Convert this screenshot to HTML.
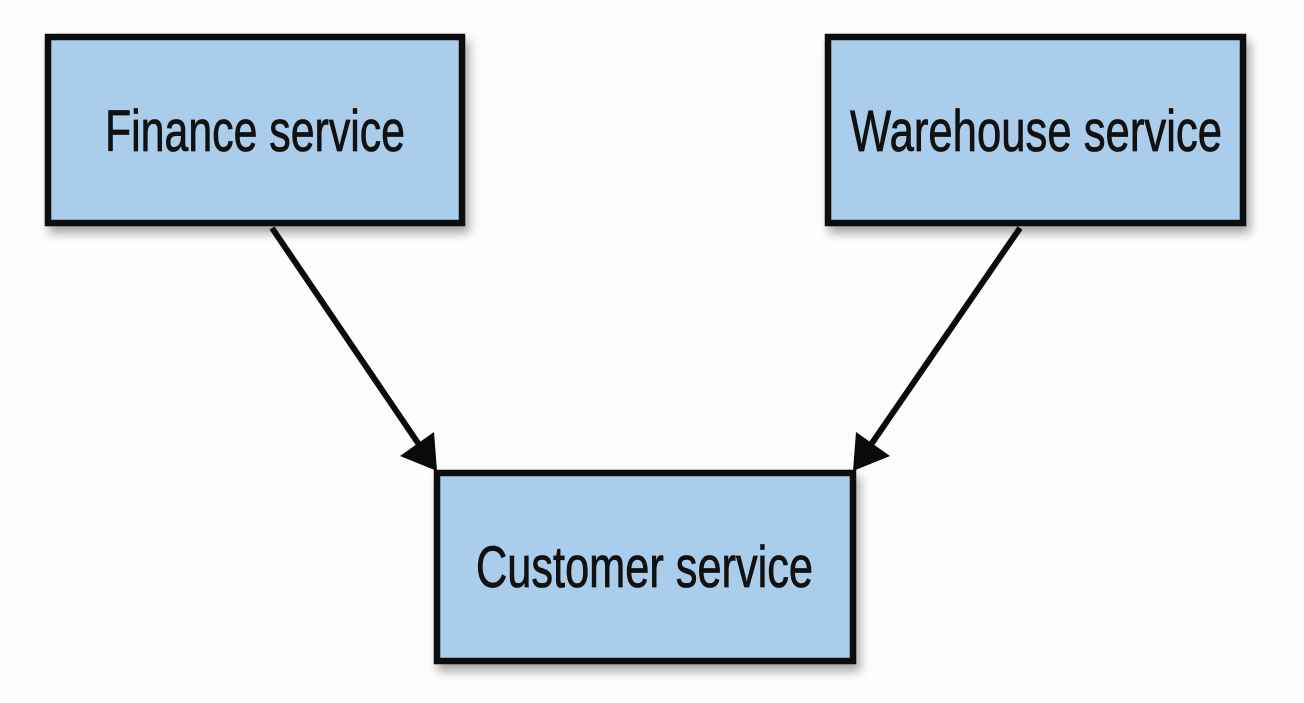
<!DOCTYPE html>
<html><head><style>
html,body{margin:0;padding:0;background:#fdfdfd;}
</style></head><body>
<svg width="1304" height="698" viewBox="0 0 1304 698" xmlns="http://www.w3.org/2000/svg">
<defs>
<filter id="sh" x="-10%" y="-10%" width="130%" height="140%">
<feGaussianBlur in="SourceAlpha" stdDeviation="5"/>
<feOffset dx="4" dy="7"/>
<feComponentTransfer><feFuncA type="linear" slope="0.35"/></feComponentTransfer>
<feMerge><feMergeNode/><feMergeNode in="SourceGraphic"/></feMerge>
</filter>
</defs>
<rect width="1304" height="698" fill="#fdfdfd"/>
<g filter="url(#sh)">
<rect x="48" y="37" width="414" height="186" fill="#abcdec" stroke="#0a0a0a" stroke-width="6.5"/>
<rect x="828" y="37" width="415" height="186" fill="#abcdec" stroke="#0a0a0a" stroke-width="6.5"/>
<rect x="437" y="473" width="416" height="188" fill="#abcdec" stroke="#0a0a0a" stroke-width="6.5"/>
</g>
<g font-family="Liberation Sans, sans-serif" font-size="58" fill="#111" stroke="#111" stroke-width="0.8">
<text x="105" y="151" textLength="300" lengthAdjust="spacingAndGlyphs">Finance service</text>
<text x="850" y="151" textLength="372" lengthAdjust="spacingAndGlyphs">Warehouse service</text>
<text x="476" y="587" textLength="337" lengthAdjust="spacingAndGlyphs">Customer service</text>
</g>
<g stroke="#0a0a0a" stroke-width="6" fill="none">
<line x1="272" y1="228" x2="420" y2="446"/>
<line x1="1020" y1="228" x2="870" y2="446"/>
</g>
<g fill="#0a0a0a">
<polygon points="437,471 400,456 434,432"/>
<polygon points="853,471 890,456 856,432"/>
</g>
</svg>
</body></html>
